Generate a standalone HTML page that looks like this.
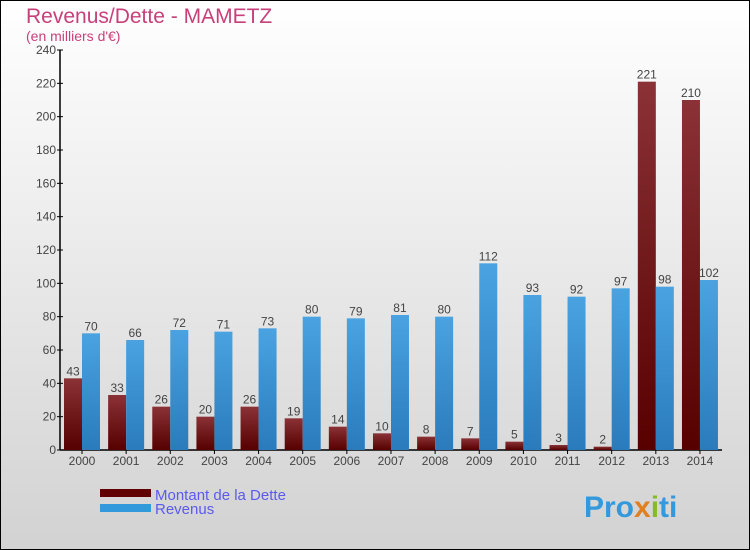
<!DOCTYPE html>
<html><head><meta charset="utf-8"><style>
body{margin:0}
#c{width:750px;height:550px;position:relative;overflow:hidden}
text{font-family:"Liberation Sans","DejaVu Sans",sans-serif}
</style></head><body>
<div id="c">
<svg width="750" height="550" id="svg">
<defs>
<linearGradient id="bg" x1="0" y1="0" x2="0" y2="1"><stop offset="0" stop-color="#ffffff"/><stop offset="1" stop-color="#d2d2d2"/></linearGradient>
<linearGradient id="gd" x1="0" y1="0" x2="0" y2="1"><stop offset="0" stop-color="#8a3236"/><stop offset="1" stop-color="#560000"/></linearGradient>
<linearGradient id="gr" x1="0" y1="0" x2="0" y2="1"><stop offset="0" stop-color="#4aa3e0"/><stop offset="1" stop-color="#2a7bbc"/></linearGradient>
</defs>
<rect x="0.5" y="0.5" width="749" height="549" fill="url(#bg)" stroke="#000"/>
<text x="26" y="23" font-size="21" fill="#c8407a">Revenus/Dette - MAMETZ</text>
<text x="26" y="41" font-size="14" fill="#c8407a">(en milliers d'€)</text>
<g id="plot"></g>
<rect x="100" y="489" width="51" height="8" fill="#600000"/>
<rect x="100" y="504" width="51" height="8" fill="#3399dd"/>
<text x="155" y="500" font-size="15" fill="#5a5aee">Montant de la Dette</text>
<text x="155" y="514" font-size="15" fill="#5a5aee">Revenus</text>
<text x="584" y="517" font-size="30" font-weight="bold" fill="#3399dd">Pro<tspan fill="#e08020">x</tspan><tspan fill="#88bb22">i</tspan>ti</text>
</svg>
</div>
<script>
const categories=["2000","2001","2002","2003","2004","2005","2006","2007","2008","2009","2010","2011","2012","2013","2014"];
const dette=[43,33,26,20,26,19,14,10,8,7,5,3,2,221,210];
const revenus=[70,66,72,71,73,80,79,81,80,112,93,92,97,98,102];
const yTicks=[0,20,40,60,80,100,120,140,160,180,200,220,240];
const NS="http://www.w3.org/2000/svg";
const g=document.getElementById("plot");
const y=v=>450-v*400/240;
const xc=i=>82+i*44.14;
function mk(t,a,txt){const e=document.createElementNS(NS,t);for(const k in a)e.setAttribute(k,a[k]);if(txt!==undefined)e.textContent=txt;g.appendChild(e);return e;}
let ax=mk("line",{x1:60,y1:50,x2:60,y2:450,stroke:"#000","stroke-width":1.5});


let bx=mk("line",{x1:60,y1:450,x2:722,y2:450,stroke:"#000","stroke-width":1.5});


yTicks.forEach(v=>{
 let t=mk("line",{x1:57,y1:y(v),x2:63,y2:y(v),stroke:"#000"});
 
 
 let l=mk("text",{x:56,y:y(v)+4,"font-size":12,fill:"#444","text-anchor":"end"},v);
 
 
});
categories.forEach((c,i)=>{
 const x=xc(i);
 let t=mk("line",{x1:x,y1:450,x2:x,y2:454,stroke:"#000"});
 
 
 let l=mk("text",{x:x,y:465,"font-size":12,fill:"#444","text-anchor":"middle"},c);
 
 
 let b1=mk("rect",{x:x-18,y:y(dette[i]),width:18,height:450-y(dette[i]),fill:"url(#gd)"});
 
 
 let b2=mk("rect",{x:x,y:y(revenus[i]),width:18,height:450-y(revenus[i]),fill:"url(#gr)"});
 
 
 let v1=mk("text",{x:x-9,y:y(dette[i])-3,"font-size":12,fill:"#444","text-anchor":"middle"},dette[i]);
 
 
 let v2=mk("text",{x:x+9,y:y(revenus[i])-3,"font-size":12,fill:"#444","text-anchor":"middle"},revenus[i]);
 
 
});
</script>
</body></html>
